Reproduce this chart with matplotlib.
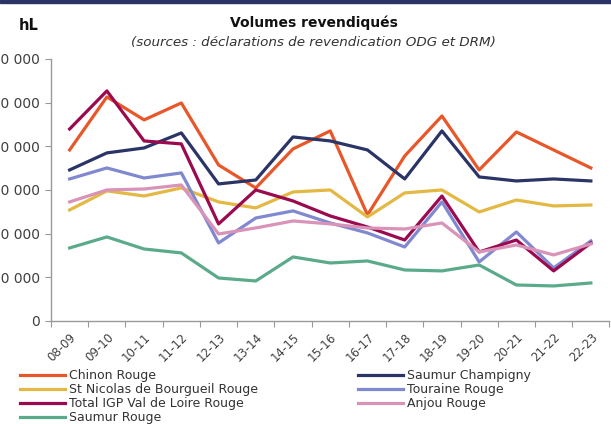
import matplotlib.pyplot as plt
from matplotlib.patches import Rectangle

plt.rcParams['font.family'] = ['DejaVu Sans']

# campaigns
campagnes = ["08-09", "09-10", "10-11", "11-12", "12-13", "13-14", "14-15", "15-16",
             "16-17", "17-18", "18-19", "19-20", "20-21", "21-22", "22-23"]

# volumes in hL
chinon = [195800, 256500, 230200, 249600, 178600, 152300, 197000, 217600,
          121400, 188900, 234700, 172900, 216400, 195800, 175200]
saumur_champigny = [172900, 192400, 198100, 215300, 156900, 161400, 210700, 206100,
                    195800, 162600, 217600, 164900, 160300, 162600, 160300]
st_nicolas = [127100, 148900, 143100, 152300, 136300, 129400, 147700, 150000,
              119100, 146600, 150000, 124800, 138500, 131700, 132800]
touraine = [162600, 175200, 163700, 169500, 89300, 117900, 126000, 112200,
            100800, 84700, 136300, 67600, 101900, 60700, 91600]
igp_val_de_loire = [219800, 263400, 206100, 202700, 111100, 150000, 137400, 120200,
                    107600, 92700, 143100, 79000, 92700, 57300, 89300]
anjou = [136300, 150000, 151100, 155700, 99600, 106500, 114500, 111100,
         106500, 105300, 112200, 79000, 87000, 75600, 88200]
saumur = [83600, 96200, 82400, 77900, 49200, 45800, 73300, 66400,
          68700, 58400, 57300, 64100, 41200, 40100, 43500]

yticks = [0, 50000, 100000, 150000, 200000, 250000, 300000]
ylabels = ["0", "50 000", "100 000", "150 000", "200 000", "250 000", "300 000"]

fig = plt.figure(figsize=(6.11, 4.24), dpi=100)
ax = fig.add_axes([0.0835, 0.243, 0.914, 0.618])

x = list(range(len(campagnes)))
lw = 2.3
l_chinon, = ax.plot(x, chinon, color="#E8572A", lw=lw, label="Chinon Rouge")
l_sc, = ax.plot(x, saumur_champigny, color="#2B3467", lw=lw, label="Saumur Champigny")
l_stn, = ax.plot(x, st_nicolas, color="#E3B843", lw=lw, label="St Nicolas de Bourgueil Rouge")
l_tour, = ax.plot(x, touraine, color="#8088D0", lw=lw, label="Touraine Rouge")
l_igp, = ax.plot(x, igp_val_de_loire, color="#9B0A4F", lw=lw, label="Total IGP Val de Loire Rouge")
l_anj, = ax.plot(x, anjou, color="#D993B9", lw=lw, label="Anjou Rouge")
l_sau, = ax.plot(x, saumur, color="#5BAA8A", lw=lw, label="Saumur Rouge")

ax.set_xlim(-0.5, len(campagnes) - 0.5)
ax.set_ylim(0, 300000)
ax.set_yticks(yticks)
ax.set_yticklabels(ylabels)
ax.set_xticks([i - 0.5 for i in range(len(campagnes) + 1)], minor=False)
ax.set_xticklabels([])
ax.set_xticks(x, minor=True)
ax.set_xticklabels(campagnes, minor=True, rotation=45, ha="right", rotation_mode="anchor")
ax.tick_params(axis="x", which="major", length=4, color="#999999", direction="out")
ax.tick_params(axis="x", which="minor", length=0, pad=7, labelsize=8.5, labelcolor="#404040")
ax.tick_params(axis="y", length=4, color="#999999", direction="out", labelsize=10,
               labelcolor="#404040", pad=4)
for s in ["top", "right"]:
    ax.spines[s].set_visible(False)
for s in ["left", "bottom"]:
    ax.spines[s].set_color("#999999")
    ax.spines[s].set_linewidth(1)

# titles
fig.text(0.513, 0.946, "Volumes revendiqués", ha="center", va="center",
         fontsize=10, fontweight="bold", color="#111111")
fig.text(0.513, 0.899, "(sources : déclarations de revendication ODG et DRM)", ha="center",
         va="center", fontsize=9.7, style="italic", color="#333333")
fig.text(0.047, 0.940, "hL", ha="center", va="center", fontsize=10.5,
         fontweight="bold", color="#111111")

# thin dark band at the top
fig.patches.append(Rectangle((0, 0.993), 1, 0.007, transform=fig.transFigure,
                             color="#2B3467", zorder=0))

handles = [l_chinon, l_stn, l_igp, l_sau, l_sc, l_tour, l_anj]
fig.legend(handles=handles, labels=[h.get_label() for h in handles], ncol=2,
           loc="upper left", bbox_to_anchor=(0.033, 0.130), frameon=False,
           fontsize=9, handlelength=3.6, handletextpad=0.3, labelspacing=0.08,
           columnspacing=8.0, borderaxespad=0, borderpad=0, labelcolor="#333333")

fig.savefig("out.png", dpi=100)
